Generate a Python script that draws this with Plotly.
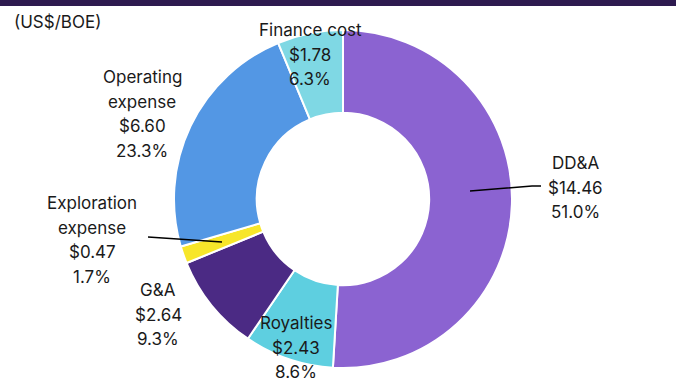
import plotly.graph_objects as go

categories = ["DD&A", "Royalties", "G&A", "Exploration expense", "Operating expense", "Finance cost"]
values = [14.46, 2.43, 2.64, 0.47, 6.60, 1.78]
percents = ["51.0%", "8.6%", "9.3%", "1.7%", "23.3%", "6.3%"]
label_lines = [["DD&A"], ["Royalties"], ["G&A"], ["Exploration", "expense"], ["Operating", "expense"], ["Finance cost"]]
colors = ["#8B63D1", "#5ECFE0", "#4B2A84", "#F7E62A", "#5397E4", "#7FD8E4"]

W, H = 676, 385
# label anchor (center x, top-line center y) in pixels
label_pos = [(575, 163), (296, 323), (158, 290), (92, 203), (142, 77), (310, 30)]
line_gap = 24.5
FONT = "Inter, Roboto, sans-serif"

fig = go.Figure()
fig.add_trace(go.Pie(
    labels=categories, values=values, sort=False, direction="clockwise", rotation=0,
    hole=0.51, marker=dict(colors=colors, line=dict(color="white", width=2)),
    textinfo="none", hoverinfo="label+value+percent", showlegend=False,
    domain=dict(x=[(343 - 169) / W, (343 + 169) / W], y=[1 - 368 / H, 1 - 30 / H]),
))

annotations = []
for lines, v, p, (px, py) in zip(label_lines, values, percents, label_pos):
    all_lines = lines + [f"${v:.2f}", p]
    for i, t in enumerate(all_lines):
        annotations.append(dict(
            x=px / W, y=1 - (py + i * line_gap) / H, xref="paper", yref="paper",
            text=t, showarrow=False, xanchor="center", yanchor="middle",
            font=dict(size=17, color="#1a1a1a", family=FONT),
        ))
annotations.append(dict(
    x=12 / W, y=1 - 22 / H, xref="paper", yref="paper", text="(US$/BOE)", showarrow=False,
    xanchor="left", yanchor="middle", font=dict(size=17, color="#1a1a1a", family=FONT),
))

shapes = [
    dict(type="rect", xref="paper", yref="paper", x0=0, x1=1, y0=1 - 6 / H, y1=1,
         fillcolor="#2E1A4F", line=dict(width=0)),
    # leader lines
    dict(type="path", xref="paper", yref="paper",
         path=f"M {470/W},{1-191/H} L {532/W},{1-186/H} L {541/W},{1-186/H}",
         line=dict(color="black", width=1.5)),
    dict(type="line", xref="paper", yref="paper", x0=148 / W, y0=1 - 237 / H, x1=222 / W, y1=1 - 242 / H,
         line=dict(color="black", width=1.5)),
]

fig.update_layout(
    width=W, height=H, margin=dict(l=0, r=0, t=0, b=0),
    paper_bgcolor="white", plot_bgcolor="white",
    annotations=annotations, shapes=shapes,
)
fig.write_html("out.html")
